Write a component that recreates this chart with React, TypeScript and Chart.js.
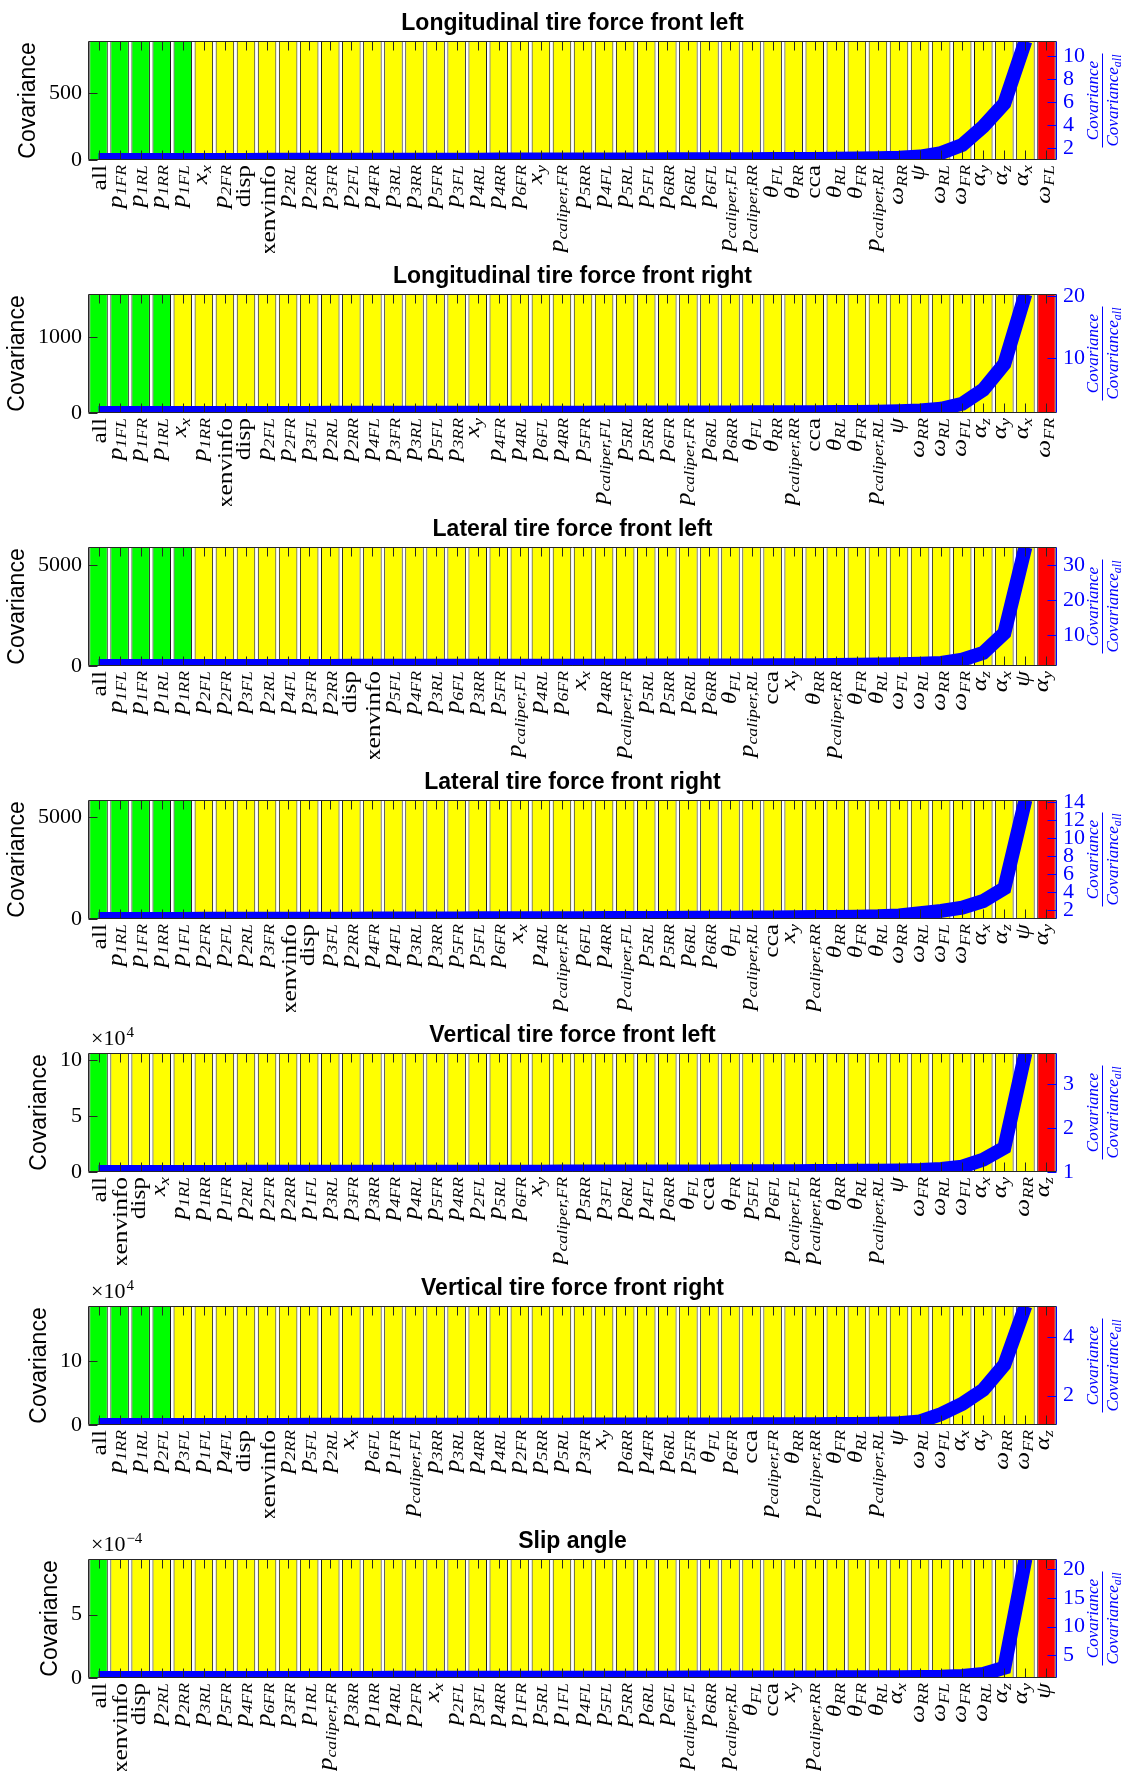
import React, { useEffect, useRef } from 'react';
import { Chart, registerables } from 'chart.js';

Chart.register(...registerables);

const W = 1122;
const H = 253;
const PAD_L = 88;
const PAD_R = 65;
const PAD_T = 41;
const PAD_B = 93;

const SERIF = '"Liberation Serif", "DejaVu Serif", serif';
const SANS = '"Liberation Sans", Arial, Helvetica, sans-serif';
const BLUE = '#0000ff';
const AXIS = '#262626';

// ---------- titles ----------
const title1 = 'Longitudinal tire force front left';
const title2 = 'Longitudinal tire force front right';
const title3 = 'Lateral tire force front left';
const title4 = 'Lateral tire force front right';
const title5 = 'Vertical tire force front left';
const title6 = 'Vertical tire force front right';
const title7 = 'Slip angle';

// ---------- categories ----------
const labels1 = ['all', 'p_{1FR}', 'p_{1RL}', 'p_{1RR}', 'p_{1FL}', 'x_{x}', 'p_{2FR}', 'disp', 'xenvinfo', 'p_{2RL}',
  'p_{2RR}', 'p_{3FR}', 'p_{2FL}', 'p_{4FR}', 'p_{3RL}', 'p_{3RR}', 'p_{5FR}', 'p_{3FL}', 'p_{4RL}', 'p_{4RR}',
  'p_{6FR}', 'x_{y}', 'p_{caliper,FR}', 'p_{5RR}', 'p_{4FL}', 'p_{5RL}', 'p_{5FL}', 'p_{6RR}', 'p_{6RL}', 'p_{6FL}',
  'p_{caliper,FL}', 'p_{caliper,RR}', 'θ_{FL}', 'θ_{RR}', 'cca', 'θ_{RL}', 'θ_{FR}', 'p_{caliper,RL}', 'ω_{RR}', 'ψ',
  'ω_{RL}', 'ω_{FR}', 'α_{y}', 'α_{z}', 'α_{x}', 'ω_{FL}'];
const labels2 = ['all', 'p_{1FL}', 'p_{1FR}', 'p_{1RL}', 'x_{x}', 'p_{1RR}', 'xenvinfo', 'disp', 'p_{2FL}', 'p_{2FR}',
  'p_{3FL}', 'p_{2RL}', 'p_{2RR}', 'p_{4FL}', 'p_{3FR}', 'p_{3RL}', 'p_{5FL}', 'p_{3RR}', 'x_{y}', 'p_{4FR}',
  'p_{4RL}', 'p_{6FL}', 'p_{4RR}', 'p_{5FR}', 'p_{caliper,FL}', 'p_{5RL}', 'p_{5RR}', 'p_{6FR}', 'p_{caliper,FR}', 'p_{6RL}',
  'p_{6RR}', 'θ_{FL}', 'θ_{RR}', 'p_{caliper,RR}', 'cca', 'θ_{RL}', 'θ_{FR}', 'p_{caliper,RL}', 'ψ', 'ω_{RR}',
  'ω_{RL}', 'ω_{FL}', 'α_{z}', 'α_{y}', 'α_{x}', 'ω_{FR}'];
const labels3 = ['all', 'p_{1FL}', 'p_{1FR}', 'p_{1RL}', 'p_{1RR}', 'p_{2FL}', 'p_{2FR}', 'p_{3FL}', 'p_{2RL}', 'p_{4FL}',
  'p_{3FR}', 'p_{2RR}', 'disp', 'xenvinfo', 'p_{5FL}', 'p_{4FR}', 'p_{3RL}', 'p_{6FL}', 'p_{3RR}', 'p_{5FR}',
  'p_{caliper,FL}', 'p_{4RL}', 'p_{6FR}', 'x_{x}', 'p_{4RR}', 'p_{caliper,FR}', 'p_{5RL}', 'p_{5RR}', 'p_{6RL}', 'p_{6RR}',
  'θ_{FL}', 'p_{caliper,RL}', 'cca', 'x_{y}', 'θ_{RR}', 'p_{caliper,RR}', 'θ_{FR}', 'θ_{RL}', 'ω_{FL}', 'ω_{RL}',
  'ω_{RR}', 'ω_{FR}', 'α_{z}', 'α_{x}', 'ψ', 'α_{y}'];
const labels4 = ['all', 'p_{1RL}', 'p_{1FR}', 'p_{1RR}', 'p_{1FL}', 'p_{2FR}', 'p_{2FL}', 'p_{2RL}', 'p_{3FR}', 'xenvinfo',
  'disp', 'p_{3FL}', 'p_{2RR}', 'p_{4FR}', 'p_{4FL}', 'p_{3RL}', 'p_{3RR}', 'p_{5FR}', 'p_{5FL}', 'p_{6FR}',
  'x_{x}', 'p_{4RL}', 'p_{caliper,FR}', 'p_{6FL}', 'p_{4RR}', 'p_{caliper,FL}', 'p_{5RL}', 'p_{5RR}', 'p_{6RL}', 'p_{6RR}',
  'θ_{FL}', 'p_{caliper,RL}', 'cca', 'x_{y}', 'p_{caliper,RR}', 'θ_{RR}', 'θ_{FR}', 'θ_{RL}', 'ω_{RR}', 'ω_{RL}',
  'ω_{FL}', 'ω_{FR}', 'α_{x}', 'α_{z}', 'ψ', 'α_{y}'];
const labels5 = ['all', 'xenvinfo', 'disp', 'x_{x}', 'p_{1RL}', 'p_{1RR}', 'p_{1FR}', 'p_{2RL}', 'p_{2FR}', 'p_{2RR}',
  'p_{1FL}', 'p_{3RL}', 'p_{3FR}', 'p_{3RR}', 'p_{4FR}', 'p_{4RL}', 'p_{5FR}', 'p_{4RR}', 'p_{2FL}', 'p_{5RL}',
  'p_{6FR}', 'x_{y}', 'p_{caliper,FR}', 'p_{5RR}', 'p_{3FL}', 'p_{6RL}', 'p_{4FL}', 'p_{6RR}', 'θ_{FL}', 'cca',
  'θ_{FR}', 'p_{5FL}', 'p_{6FL}', 'p_{caliper,FL}', 'p_{caliper,RR}', 'θ_{RR}', 'θ_{RL}', 'p_{caliper,RL}', 'ψ', 'ω_{FR}',
  'ω_{RL}', 'ω_{FL}', 'α_{x}', 'α_{y}', 'ω_{RR}', 'α_{z}'];
const labels6 = ['all', 'p_{1RR}', 'p_{1RL}', 'p_{2FL}', 'p_{3FL}', 'p_{1FL}', 'p_{4FL}', 'disp', 'xenvinfo', 'p_{2RR}',
  'p_{5FL}', 'p_{2RL}', 'x_{x}', 'p_{6FL}', 'p_{1FR}', 'p_{caliper,FL}', 'p_{3RR}', 'p_{3RL}', 'p_{4RR}', 'p_{4RL}',
  'p_{2FR}', 'p_{5RR}', 'p_{5RL}', 'p_{3FR}', 'x_{y}', 'p_{6RR}', 'p_{4FR}', 'p_{6RL}', 'p_{5FR}', 'θ_{FL}',
  'p_{6FR}', 'cca', 'p_{caliper,FR}', 'θ_{RR}', 'p_{caliper,RR}', 'θ_{FR}', 'θ_{RL}', 'p_{caliper,RL}', 'ψ', 'ω_{RL}',
  'ω_{FL}', 'α_{x}', 'α_{y}', 'ω_{RR}', 'ω_{FR}', 'α_{z}'];
const labels7 = ['all', 'xenvinfo', 'disp', 'p_{2RL}', 'p_{2RR}', 'p_{3RL}', 'p_{5FR}', 'p_{4FR}', 'p_{6FR}', 'p_{3FR}',
  'p_{1RL}', 'p_{caliper,FR}', 'p_{3RR}', 'p_{1RR}', 'p_{4RL}', 'p_{2FR}', 'x_{x}', 'p_{2FL}', 'p_{3FL}', 'p_{4RR}',
  'p_{1FR}', 'p_{5RL}', 'p_{1FL}', 'p_{4FL}', 'p_{5FL}', 'p_{5RR}', 'p_{6RL}', 'p_{6FL}', 'p_{caliper,FL}', 'p_{6RR}',
  'p_{caliper,RL}', 'θ_{FL}', 'cca', 'x_{y}', 'p_{caliper,RR}', 'θ_{RR}', 'θ_{FR}', 'θ_{RL}', 'α_{x}', 'ω_{RR}',
  'ω_{FL}', 'ω_{FR}', 'ω_{RL}', 'α_{z}', 'α_{y}', 'ψ'];

// ---------- covariance (bars, left axis) ----------
const cov1 = [
  888, 888, 888, 888, 888, 888, 888, 888, 888, 888,
  888, 888, 888, 888, 888, 888, 888, 888, 888, 888,
  888, 888, 888, 888, 888, 888, 888, 888, 888, 888,
  888, 888, 888, 888, 888, 888, 888, 888, 888, 888,
  888, 888, 888, 888, 888, 888];
const cov2 = [
  1570, 1570, 1570, 1570, 1570, 1570, 1570, 1570, 1570, 1570,
  1570, 1570, 1570, 1570, 1570, 1570, 1570, 1570, 1570, 1570,
  1570, 1570, 1570, 1570, 1570, 1570, 1570, 1570, 1570, 1570,
  1570, 1570, 1570, 1570, 1570, 1570, 1570, 1570, 1570, 1570,
  1570, 1570, 1570, 1570, 1570, 1570];
const cov3 = [
  5900, 5900, 5900, 5900, 5900, 5900, 5900, 5900, 5900, 5900,
  5900, 5900, 5900, 5900, 5900, 5900, 5900, 5900, 5900, 5900,
  5900, 5900, 5900, 5900, 5900, 5900, 5900, 5900, 5900, 5900,
  5900, 5900, 5900, 5900, 5900, 5900, 5900, 5900, 5900, 5900,
  5900, 5900, 5900, 5900, 5900, 5900];
const cov4 = [
  5850, 5850, 5850, 5850, 5850, 5850, 5850, 5850, 5850, 5850,
  5850, 5850, 5850, 5850, 5850, 5850, 5850, 5850, 5850, 5850,
  5850, 5850, 5850, 5850, 5850, 5850, 5850, 5850, 5850, 5850,
  5850, 5850, 5850, 5850, 5850, 5850, 5850, 5850, 5850, 5850,
  5850, 5850, 5850, 5850, 5850, 5850];
const cov5 = [
  106000, 106000, 106000, 106000, 106000, 106000, 106000, 106000, 106000, 106000,
  106000, 106000, 106000, 106000, 106000, 106000, 106000, 106000, 106000, 106000,
  106000, 106000, 106000, 106000, 106000, 106000, 106000, 106000, 106000, 106000,
  106000, 106000, 106000, 106000, 106000, 106000, 106000, 106000, 106000, 106000,
  106000, 106000, 106000, 106000, 106000, 106000];
const cov6 = [
  186000, 186000, 186000, 186000, 186000, 186000, 186000, 186000, 186000, 186000,
  186000, 186000, 186000, 186000, 186000, 186000, 186000, 186000, 186000, 186000,
  186000, 186000, 186000, 186000, 186000, 186000, 186000, 186000, 186000, 186000,
  186000, 186000, 186000, 186000, 186000, 186000, 186000, 186000, 186000, 186000,
  186000, 186000, 186000, 186000, 186000, 186000];
const cov7 = [
  0.00094, 0.00094, 0.00094, 0.00094, 0.00094, 0.00094, 0.00094, 0.00094, 0.00094, 0.00094,
  0.00094, 0.00094, 0.00094, 0.00094, 0.00094, 0.00094, 0.00094, 0.00094, 0.00094, 0.00094,
  0.00094, 0.00094, 0.00094, 0.00094, 0.00094, 0.00094, 0.00094, 0.00094, 0.00094, 0.00094,
  0.00094, 0.00094, 0.00094, 0.00094, 0.00094, 0.00094, 0.00094, 0.00094, 0.00094, 0.00094,
  0.00094, 0.00094, 0.00094, 0.00094, 0.00094, 0.00094];

// ---------- covariance / covariance_all (line, right axis) ----------
const ratio1 = [1.00, 1.00, 1.00, 1.01, 1.01, 1.01, 1.01, 1.01, 1.02, 1.02,
  1.02, 1.02, 1.02, 1.02, 1.03, 1.03, 1.03, 1.03, 1.03, 1.04,
  1.04, 1.04, 1.04, 1.05, 1.05, 1.05, 1.05, 1.06, 1.06, 1.06,
  1.07, 1.07, 1.08, 1.08, 1.09, 1.10, 1.12, 1.15, 1.20, 1.30,
  1.60, 2.30, 3.90, 5.90, 11.3, null];
const ratio2 = [1.00, 1.00, 1.00, 1.01, 1.01, 1.01, 1.01, 1.02, 1.02, 1.02,
  1.02, 1.03, 1.03, 1.03, 1.03, 1.04, 1.04, 1.04, 1.05, 1.05,
  1.05, 1.06, 1.06, 1.06, 1.07, 1.07, 1.08, 1.08, 1.09, 1.09,
  1.10, 1.11, 1.12, 1.13, 1.14, 1.16, 1.18, 1.22, 1.28, 1.40,
  1.70, 2.50, 4.80, 9.00, 20.4, null];
const ratio3 = [1.00, 1.00, 1.00, 1.01, 1.01, 1.01, 1.02, 1.02, 1.02, 1.03,
  1.03, 1.03, 1.04, 1.04, 1.04, 1.05, 1.05, 1.06, 1.06, 1.07,
  1.07, 1.08, 1.08, 1.09, 1.10, 1.10, 1.11, 1.12, 1.13, 1.14,
  1.15, 1.17, 1.19, 1.21, 1.24, 1.28, 1.33, 1.40, 1.50, 1.65,
  1.90, 2.80, 4.80, 10.5, 35.3, null];
const ratio4 = [1.00, 1.00, 1.01, 1.01, 1.01, 1.02, 1.02, 1.02, 1.03, 1.03,
  1.03, 1.04, 1.04, 1.05, 1.05, 1.05, 1.06, 1.06, 1.07, 1.07,
  1.08, 1.08, 1.09, 1.09, 1.10, 1.11, 1.11, 1.12, 1.13, 1.14,
  1.15, 1.16, 1.17, 1.19, 1.21, 1.23, 1.26, 1.30, 1.40, 1.65,
  1.90, 2.25, 3.00, 4.40, 14.2, null];
const ratio5 = [1.000, 1.000, 1.001, 1.001, 1.002, 1.002, 1.002, 1.003, 1.003, 1.003,
  1.004, 1.004, 1.004, 1.005, 1.005, 1.005, 1.006, 1.006, 1.007, 1.007,
  1.008, 1.008, 1.009, 1.009, 1.010, 1.010, 1.011, 1.012, 1.013, 1.014,
  1.015, 1.016, 1.017, 1.019, 1.021, 1.023, 1.026, 1.030, 1.035, 1.045,
  1.07, 1.12, 1.28, 1.55, 3.7, null];
const ratio6 = [1.000, 1.000, 1.001, 1.001, 1.002, 1.002, 1.003, 1.003, 1.004, 1.004,
  1.005, 1.005, 1.006, 1.006, 1.007, 1.007, 1.008, 1.008, 1.009, 1.010,
  1.010, 1.011, 1.012, 1.013, 1.014, 1.015, 1.016, 1.017, 1.018, 1.019,
  1.020, 1.022, 1.024, 1.026, 1.029, 1.032, 1.036, 1.045, 1.06, 1.12,
  1.37, 1.72, 2.20, 3.05, 5.05, null];
const ratio7 = [1.00, 1.00, 1.00, 1.00, 1.01, 1.01, 1.01, 1.01, 1.01, 1.02,
  1.02, 1.02, 1.02, 1.02, 1.03, 1.03, 1.03, 1.03, 1.04, 1.04,
  1.04, 1.04, 1.05, 1.05, 1.05, 1.06, 1.06, 1.06, 1.07, 1.07,
  1.08, 1.08, 1.09, 1.09, 1.10, 1.11, 1.12, 1.13, 1.15, 1.18,
  1.22, 1.35, 1.70, 2.80, 21.8, null];

// ---------- number of green bars ----------
const green1 = 5;
const green2 = 4;
const green3 = 5;
const green4 = 5;
const green5 = 1;
const green6 = 4;
const green7 = 1;

// ---------- axes ----------
const yMax1 = 888, yMax2 = 1570, yMax3 = 5900, yMax4 = 5850, yMax5 = 106000, yMax6 = 186000, yMax7 = 0.00094;
const yTicks1 = [0, 500];
const yTicks2 = [0, 1000];
const yTicks3 = [0, 5000];
const yTicks4 = [0, 5000];
const yTicks5 = [0, 50000, 100000];
const yTicks6 = [0, 100000];
const yTicks7 = [0, 0.0005];
const yExp1 = 0, yExp2 = 0, yExp3 = 0, yExp4 = 0, yExp5 = 4, yExp6 = 4, yExp7 = -4;

const r2Max1 = 11.3, r2Max2 = 20.4, r2Max3 = 35.3, r2Max4 = 14.2, r2Max5 = 3.7, r2Max6 = 5.05, r2Max7 = 21.8;
const r2Ticks1 = [2, 4, 6, 8, 10];
const r2Ticks2 = [10, 20];
const r2Ticks3 = [10, 20, 30];
const r2Ticks4 = [2, 4, 6, 8, 10, 12, 14];
const r2Ticks5 = [1, 2, 3];
const r2Ticks6 = [2, 4];
const r2Ticks7 = [5, 10, 15, 20];

const panels = [
  { title: title1, labels: labels1, cov: cov1, ratio: ratio1, green: green1, yMax: yMax1, yTicks: yTicks1, yExp: yExp1, r2Max: r2Max1, r2Ticks: r2Ticks1 },
  { title: title2, labels: labels2, cov: cov2, ratio: ratio2, green: green2, yMax: yMax2, yTicks: yTicks2, yExp: yExp2, r2Max: r2Max2, r2Ticks: r2Ticks2 },
  { title: title3, labels: labels3, cov: cov3, ratio: ratio3, green: green3, yMax: yMax3, yTicks: yTicks3, yExp: yExp3, r2Max: r2Max3, r2Ticks: r2Ticks3 },
  { title: title4, labels: labels4, cov: cov4, ratio: ratio4, green: green4, yMax: yMax4, yTicks: yTicks4, yExp: yExp4, r2Max: r2Max4, r2Ticks: r2Ticks4 },
  { title: title5, labels: labels5, cov: cov5, ratio: ratio5, green: green5, yMax: yMax5, yTicks: yTicks5, yExp: yExp5, r2Max: r2Max5, r2Ticks: r2Ticks5 },
  { title: title6, labels: labels6, cov: cov6, ratio: ratio6, green: green6, yMax: yMax6, yTicks: yTicks6, yExp: yExp6, r2Max: r2Max6, r2Ticks: r2Ticks6 },
  { title: title7, labels: labels7, cov: cov7, ratio: ratio7, green: green7, yMax: yMax7, yTicks: yTicks7, yExp: yExp7, r2Max: r2Max7, r2Ticks: r2Ticks7 },
];

const ROMAN = ['all', 'cca', 'disp', 'xenvinfo'];

function parseLabel(s: string) {
  const m = s.match(/^(.*?)_\{(.*)\}$/);
  if (m) return { base: m[1], sub: m[2], italic: true };
  return { base: s, sub: '', italic: ROMAN.indexOf(s) < 0 };
}

function drawXLabel(ctx: CanvasRenderingContext2D, s: string, cx: number, top: number) {
  const { base, sub, italic } = parseLabel(s);
  const FS = 20, SS = 14, DROP = 4, ST = 1.27;
  const f1 = `${italic ? 'italic ' : ''}${FS}px ${SERIF}`;
  const f2 = `italic ${SS}px ${SERIF}`;
  ctx.font = f1;
  const m1 = ctx.measureText(base);
  let w = m1.width;
  let asc = m1.actualBoundingBoxAscent;
  let desc = m1.actualBoundingBoxDescent;
  if (sub) {
    ctx.font = f2;
    const m2 = ctx.measureText(sub);
    w += m2.width;
    asc = Math.max(asc, m2.actualBoundingBoxAscent - DROP);
    desc = Math.max(desc, m2.actualBoundingBoxDescent + DROP);
  }
  const by = (asc - desc) / 2;
  ctx.save();
  ctx.translate(cx, top);
  ctx.rotate(-Math.PI / 2);
  ctx.scale(ST, 1);
  ctx.textAlign = 'left';
  ctx.textBaseline = 'alphabetic';
  ctx.fillStyle = '#000';
  ctx.font = f1;
  ctx.fillText(base, -w, by);
  if (sub) {
    ctx.font = f2;
    ctx.fillText(sub, -w + m1.width, by + DROP);
  }
  ctx.restore();
}

function fmtTick(t: number, exp: number) {
  const v = t / Math.pow(10, exp);
  return String(Math.round(v * 1000) / 1000);
}

function makeDeco(p: any) {
  return {
    id: 'matlabDeco',
    afterDraw(chart: any) {
      const ctx: CanvasRenderingContext2D = chart.ctx;
      const a = chart.chartArea;
      const xs = chart.scales.x;
      const ys = chart.scales.y;
      const y2 = chart.scales.y2;
      const L = Math.round(a.left) + 0.5;
      const R = Math.round(a.right) - 0.5;
      const T = Math.round(a.top) + 0.5;
      const B = Math.round(a.bottom) - 0.5;
      const TL = 9;
      ctx.save();
      ctx.lineWidth = 1;

      // ticks on category axis (top and bottom)
      ctx.strokeStyle = AXIS;
      ctx.beginPath();
      for (let i = 0; i < p.labels.length; i++) {
        const x = Math.round(xs.getPixelForValue(i)) + 0.5;
        ctx.moveTo(x, T);
        ctx.lineTo(x, T + TL);
        ctx.moveTo(x, B);
        ctx.lineTo(x, B - TL);
      }
      // left ticks
      for (const t of p.yTicks) {
        const y = Math.round(ys.getPixelForValue(t)) + 0.5;
        ctx.moveTo(L, y);
        ctx.lineTo(L + TL, y);
      }
      ctx.stroke();

      // frame (left, top, bottom)
      ctx.beginPath();
      ctx.moveTo(L, B);
      ctx.lineTo(L, T);
      ctx.lineTo(R, T);
      ctx.moveTo(L, B);
      ctx.lineTo(R, B);
      ctx.stroke();

      // right axis
      ctx.strokeStyle = BLUE;
      ctx.beginPath();
      ctx.moveTo(R, T);
      ctx.lineTo(R, B);
      for (const t of p.r2Ticks) {
        const y = Math.round(y2.getPixelForValue(t)) + 0.5;
        ctx.moveTo(R, y);
        ctx.lineTo(R - TL, y);
      }
      ctx.stroke();

      // category labels
      for (let i = 0; i < p.labels.length; i++) {
        drawXLabel(ctx, p.labels[i], xs.getPixelForValue(i), a.bottom + 5);
      }

      // left tick labels
      ctx.font = `22px ${SERIF}`;
      ctx.fillStyle = '#000';
      ctx.textAlign = 'right';
      ctx.textBaseline = 'middle';
      let maxW = 0;
      for (const t of p.yTicks) {
        const s = fmtTick(t, p.yExp);
        maxW = Math.max(maxW, ctx.measureText(s).width);
        ctx.fillText(s, a.left - 6, ys.getPixelForValue(t));
      }

      // exponent label
      if (p.yExp !== 0) {
        ctx.textAlign = 'left';
        ctx.textBaseline = 'alphabetic';
        ctx.font = `22px ${SERIF}`;
        const base = '×10';
        const bx = a.left + 3;
        const byy = a.top - 8;
        ctx.fillText(base, bx, byy);
        const bw = ctx.measureText(base).width;
        ctx.font = `15px ${SERIF}`;
        ctx.fillText(p.yExp < 0 ? '−' + String(-p.yExp) : String(p.yExp), bx + bw + 1, byy - 8);
      }

      // y title
      const midY = (a.top + a.bottom) / 2;
      ctx.save();
      ctx.translate(a.left - 6 - maxW - 20, midY);
      ctx.rotate(-Math.PI / 2);
      ctx.font = `23px ${SANS}`;
      ctx.textAlign = 'center';
      ctx.textBaseline = 'middle';
      ctx.fillStyle = '#000';
      ctx.fillText('Covariance', 0, 0);
      ctx.restore();

      // right tick labels
      ctx.font = `22px ${SERIF}`;
      ctx.fillStyle = BLUE;
      ctx.textAlign = 'left';
      ctx.textBaseline = 'middle';
      for (const t of p.r2Ticks) {
        ctx.fillText(String(t), a.right + 6, y2.getPixelForValue(t));
      }

      // right axis fraction label
      ctx.save();
      ctx.translate(1102, midY);
      ctx.rotate(-Math.PI / 2);
      ctx.fillStyle = BLUE;
      ctx.strokeStyle = BLUE;
      ctx.textBaseline = 'alphabetic';
      ctx.font = `italic 17px ${SERIF}`;
      const numW = ctx.measureText('Covariance').width;
      ctx.font = `italic 12px ${SERIF}`;
      const subW = ctx.measureText('all').width;
      const denW = numW + subW;
      ctx.font = `italic 17px ${SERIF}`;
      ctx.textAlign = 'center';
      ctx.fillText('Covariance', 0, -4);
      ctx.textAlign = 'left';
      ctx.fillText('Covariance', -denW / 2, 16);
      ctx.font = `italic 12px ${SERIF}`;
      ctx.fillText('all', -denW / 2 + numW, 19);
      ctx.lineWidth = 1;
      ctx.beginPath();
      ctx.moveTo(-denW / 2 - 1, 0.5);
      ctx.lineTo(denW / 2 + 1, 0.5);
      ctx.stroke();
      ctx.restore();

      // title
      ctx.font = `bold 23px ${SANS}`;
      ctx.fillStyle = '#000';
      ctx.textAlign = 'center';
      ctx.textBaseline = 'alphabetic';
      ctx.fillText(p.title, (a.left + a.right) / 2, 30);

      ctx.restore();
    },
  };
}

function Subplot({ p }: { p: any }) {
  const ref = useRef<HTMLCanvasElement | null>(null);
  useEffect(() => {
    const canvas = ref.current;
    if (!canvas) return;
    const n = p.labels.length;
    const colors = p.labels.map((_: string, i: number) =>
      i < p.green ? '#00ff00' : i === n - 1 ? '#ff0000' : '#ffff00');
    const chart = new Chart(canvas, {
      type: 'bar',
      data: {
        labels: p.labels,
        datasets: [
          {
            type: 'line',
            data: p.ratio,
            yAxisID: 'y2',
            borderColor: BLUE,
            backgroundColor: BLUE,
            borderWidth: 14,
            pointRadius: 0,
            tension: 0,
            fill: false,
            clip: 0,
            order: 0,
            borderCapStyle: 'butt',
            borderJoinStyle: 'miter',
          } as any,
          {
            type: 'bar',
            data: p.cov,
            yAxisID: 'y',
            backgroundColor: colors,
            borderColor: '#1a1a1a',
            borderWidth: 1,
            borderSkipped: false,
            barPercentage: 0.88,
            categoryPercentage: 1,
            order: 1,
          } as any,
        ],
      },
      options: {
        responsive: false,
        animation: false,
        layout: { padding: { left: PAD_L, right: PAD_R, top: PAD_T, bottom: PAD_B } },
        scales: {
          x: { display: false, offset: true },
          y: { display: false, min: 0, max: p.yMax, position: 'left' },
          y2: { display: false, min: 1, max: p.r2Max, position: 'right' },
        },
        plugins: {
          legend: { display: false },
          tooltip: { enabled: false },
          title: { display: false },
        },
        events: [],
      } as any,
      plugins: [makeDeco(p)],
    });
    return () => chart.destroy();
  }, [p]);
  return <canvas ref={ref} width={W} height={H} style={{ display: 'block', width: W, height: H }} />;
}

export default function App() {
  useEffect(() => {
    document.body.style.margin = '0';
    document.body.style.background = '#ffffff';
  }, []);
  return (
    <div style={{ width: W, background: '#fff' }}>
      {panels.map((p, i) => (
        <Subplot key={i} p={p} />
      ))}
    </div>
  );
}
